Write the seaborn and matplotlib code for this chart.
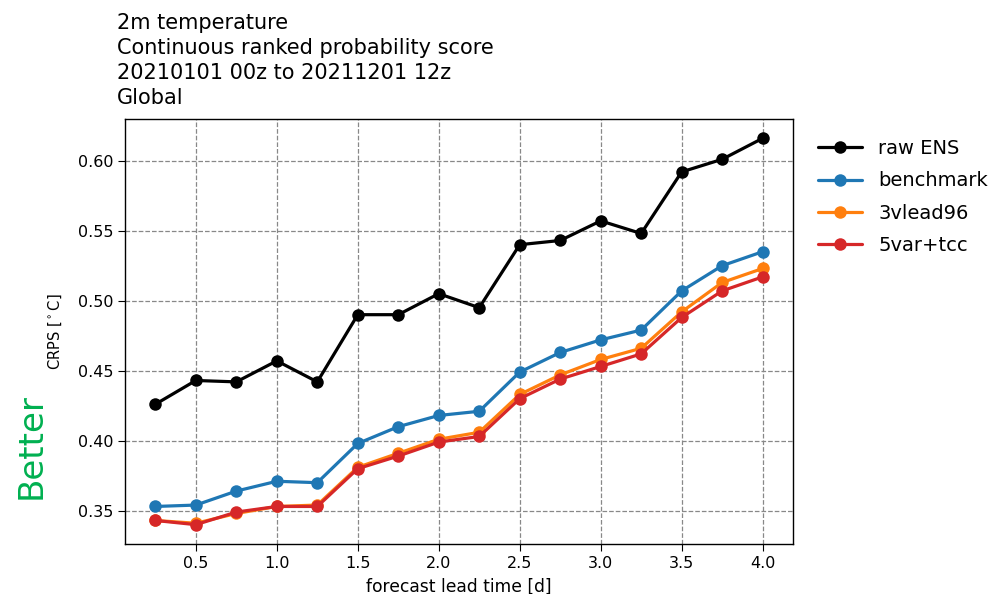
import numpy as np
import pandas as pd
import matplotlib
matplotlib.use("Agg")
import matplotlib.pyplot as plt
import seaborn as sns

# forecast lead time in days
lead_time = [0.25, 0.5, 0.75, 1.0, 1.25, 1.5, 1.75, 2.0, 2.25, 2.5, 2.75, 3.0, 3.25, 3.5, 3.75, 4.0]

raw_ens = [0.426, 0.443, 0.442, 0.457, 0.442, 0.490, 0.490, 0.505, 0.495, 0.540,
           0.543, 0.557, 0.548, 0.592, 0.601, 0.616]
benchmark = [0.353, 0.354, 0.364, 0.371, 0.370, 0.398, 0.410, 0.418, 0.421, 0.449,
             0.463, 0.472, 0.479, 0.507, 0.525, 0.535]
lead96 = [0.343, 0.341, 0.348, 0.353, 0.354, 0.381, 0.391, 0.401, 0.406, 0.433,
          0.447, 0.458, 0.466, 0.492, 0.513, 0.523]
var_tcc = [0.343, 0.340, 0.349, 0.353, 0.353, 0.380, 0.389, 0.399, 0.403, 0.430,
           0.444, 0.453, 0.462, 0.488, 0.507, 0.517]

series_names = ["raw ENS", "benchmark", "3vlead96", "5var+tcc"]
colors = {"raw ENS": "black", "benchmark": "#1f77b4", "3vlead96": "#ff7f0e", "5var+tcc": "#d62728"}

df = pd.DataFrame({
    "lead": lead_time * 4,
    "crps": raw_ens + benchmark + lead96 + var_tcc,
    "model": sum([[n] * len(lead_time) for n in series_names], []),
})

sns.set_style("ticks")
plt.rcParams["font.family"] = ["DejaVu Sans"]
plt.rcParams["text.color"] = "black"
plt.rcParams["axes.labelcolor"] = "black"
plt.rcParams["xtick.color"] = "black"
plt.rcParams["ytick.color"] = "black"

fig = plt.figure(figsize=(9.95, 5.94), dpi=100)
ax = fig.add_axes([0.1256, 0.0842, 0.6714, 0.7155])

sns.lineplot(data=df, x="lead", y="crps", hue="model", hue_order=series_names,
             palette=colors, marker="o", markersize=9, markeredgewidth=0,
             linewidth=2.3, ax=ax)

ax.grid(True, linestyle="--", color="#888888", linewidth=0.9)
ax.set_xticks([0.5, 1.0, 1.5, 2.0, 2.5, 3.0, 3.5, 4.0])
ax.set_yticks([0.35, 0.40, 0.45, 0.50, 0.55, 0.60])
ax.tick_params(labelsize=11.5, direction="out", length=5)
for s in ax.spines.values():
    s.set_linewidth(1.0)
    s.set_color("black")

ax.set_xlabel("forecast lead time [d]", fontsize=12.3, labelpad=5)
ax.set_ylabel("CRPS [$^\\circ$C]", fontsize=10.5, labelpad=10)

# multi-line title, left aligned a little left of the axes
fig.text(0.1176, 0.978, "2m temperature\nContinuous ranked probability score\n20210101 00z to 20211201 12z\nGlobal",
         ha="left", va="top", fontsize=15, linespacing=1.31)

ax.legend(loc="upper left", bbox_to_anchor=(1.0105, 0.994), frameon=False,
          fontsize=14, labelspacing=0.69, handlelength=2.3, handletextpad=0.82)

fig.text(0.031, 0.249, "Better", rotation=90, color="#00b050", fontsize=24.5,
         ha="center", va="center")

fig.savefig("out.png", dpi=100)
